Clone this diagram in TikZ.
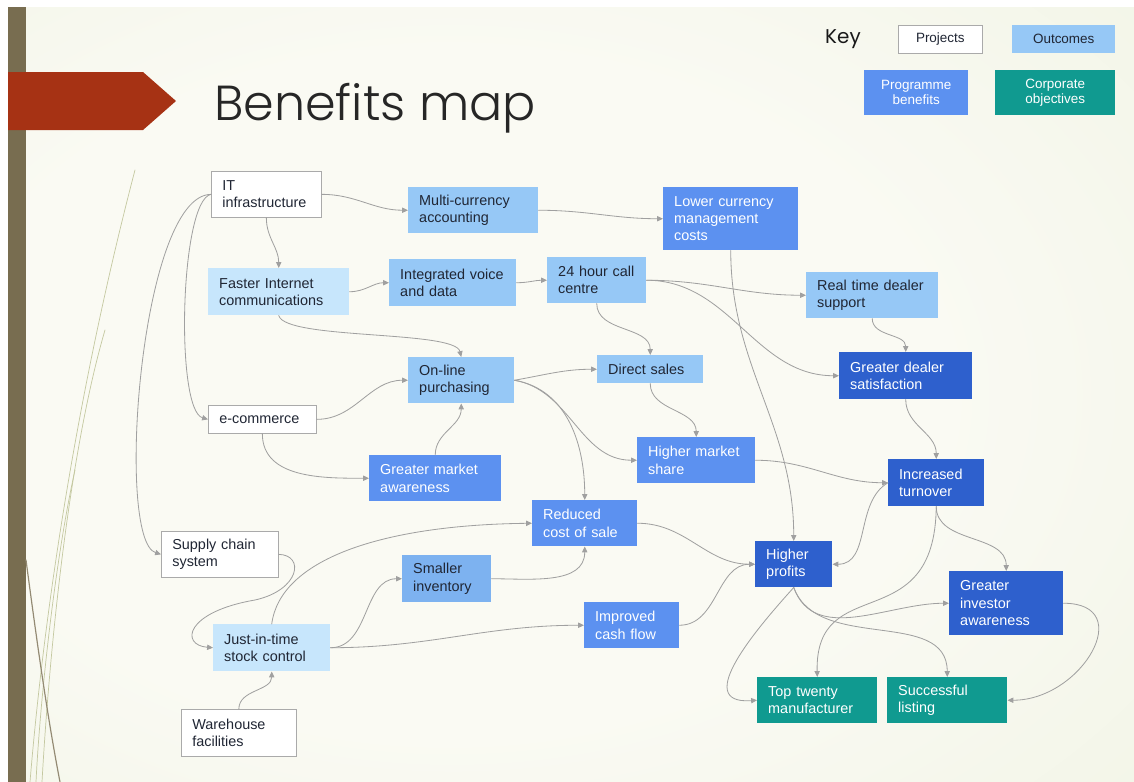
\documentclass[tikz,border=0pt]{standalone}
\usepackage{fontspec}
\setmainfont{Liberation Sans}
\newfontfamily\titlefont{Poppins Light}
\newfontfamily\keyfamily{Poppins}
\usepackage{tikz}
\usetikzlibrary{arrows.meta, calc}

\definecolor{BarOlive}{RGB}{120,109,80}
\definecolor{ArrowRed}{RGB}{166,50,20}
\definecolor{PaperWhite}{RGB}{250,250,243}
\definecolor{PaperMid}{RGB}{239,243,226}
\definecolor{PaperGreen}{RGB}{222,230,196}
\definecolor{WispGreen}{RGB}{196,200,160}
\definecolor{BoxGray}{RGB}{170,170,170}
\definecolor{LinkGray}{RGB}{160,160,160}
\definecolor{TextDark}{RGB}{32,38,52}
\definecolor{OutLight}{RGB}{199,230,252}
\definecolor{OutBlue}{RGB}{150,200,246}
\definecolor{InvBlue}{RGB}{125,178,240}
\definecolor{ProgBlue}{RGB}{92,145,240}
\definecolor{CorpBlue}{RGB}{46,96,205}
\definecolor{ObjTeal}{RGB}{16,154,144}

\pgfdeclareradialshading{paper}{\pgfpoint{-8bp}{0bp}}{color(0bp)=(PaperWhite); color(22bp)=(PaperWhite); color(48bp)=(PaperMid); color(70.7bp)=(PaperGreen)}

\newcommand{\boxfont}{\fontsize{12.3}{14.7}\selectfont}
\newcommand{\keyfont}{\fontsize{11.5}{13}\selectfont}

\newcommand{\MapBox}[7]{
	\pgfmathsetmacro{\bwidth}{#5*0.03}
	\pgfmathsetmacro{\bheight}{#6*0.03}
	\pgfmathsetmacro{\btext}{#5*0.03-0.66}
	\node[anchor=north west, inner xsep=0.33cm, inner ysep=0pt, minimum width=\bwidth cm, minimum height=\bheight cm, text width=\btext cm, align=left, #2] (#1) at (#3,-#4) {#7};
}

\begin{document}
\begin{tikzpicture}[x=0.03cm, y=0.03cm, line cap=round,
	project/.style={fill=white, draw=BoxGray, line width=0.6pt, text=TextDark, font=\boxfont},
	outlight/.style={fill=OutLight, text=TextDark, font=\boxfont},
	outcome/.style={fill=OutBlue, text=TextDark, font=\boxfont},
	inventory/.style={fill=InvBlue, text=TextDark, font=\boxfont},
	programme/.style={fill=ProgBlue, text=white, font=\boxfont},
	corporate/.style={fill=CorpBlue, text=white, font=\boxfont},
	objective/.style={fill=ObjTeal, text=white, font=\boxfont},
	keybox/.style={align=center, inner xsep=0.1cm, font=\keyfont},
	link/.style={draw=LinkGray, line width=0.7pt, -{Triangle[length=5pt, width=4.5pt]}},
	wisp/.style={draw=WispGreen, line width=0.6pt}
	]

	\useasboundingbox (0,0) rectangle (1134,-782);

	% slide background
	\fill[white] (0,0) rectangle (1134,-782);
	\shade[shading=paper] (8,-7) rectangle (1134,-782);
	\fill[BarOlive] (8,-7) rectangle (26,-782);
	\draw[wisp] (30,-782) .. controls (45,-600) and (80,-380) .. (135,-170);
	\draw[wisp] (42,-782) .. controls (50,-640) and (70,-450) .. (105,-330);
	\draw[wisp] (36,-782) .. controls (40,-700) and (55,-560) .. (75,-470);
	\draw[BarOlive!80, line width=1pt] (26,-560) .. controls (38,-650) and (48,-720) .. (60,-782);
	\fill[ArrowRed] (8,-72) -- (143,-72) -- (176,-101) -- (143,-130) -- (8,-130) -- cycle;

	\node[anchor=base west, inner sep=0, text=black!85, font=\titlefont\fontsize{42}{48}\selectfont] (title) at (214,-120) {Benefits map};

	% key
	\node[anchor=base west, inner sep=0, text=black!90, font=\keyfamily\fontsize{17}{20}\selectfont] (keylabel) at (825,-43) {Key};
	\MapBox{keyproj}{project, keybox}{898}{25}{84}{28}{Projects}
	\MapBox{keyout}{outcome, keybox}{1012}{25}{103}{28}{Outcomes}
	\MapBox{keyprog}{programme, keybox}{864}{70}{104}{45}{Programme\\benefits}
	\MapBox{keycorp}{objective, keybox}{995}{70}{120}{45}{Corporate\\objectives}

	% projects
	\MapBox{itinfra}{project}{211}{171}{110}{46}{IT\\infrastructure}
	\MapBox{ecomm}{project}{208}{405}{108}{28}{e-commerce}
	\MapBox{supply}{project}{161}{531}{117}{46}{Supply chain\\system}
	\MapBox{warehouse}{project}{181}{709}{115}{47}{Warehouse\\facilities}

	% outcomes
	\MapBox{multicur}{outcome}{408}{187}{130}{46}{Multi-currency\\accounting}
	\MapBox{faster}{outlight}{208}{268}{141}{47}{Faster Internet\\communications}
	\MapBox{voice}{outcome}{389}{259}{127}{47}{Integrated voice\\and data}
	\MapBox{callctr}{outcome}{547}{257}{99}{46}{24 hour call\\centre}
	\MapBox{dealersup}{outcome}{806}{272}{132}{46}{Real time dealer\\support}
	\MapBox{online}{outcome}{408}{357}{106}{46}{On-line\\purchasing}
	\MapBox{directs}{outcome}{597}{355}{106}{28}{Direct sales}
	\MapBox{inventory}{inventory}{402}{555}{89}{47}{Smaller\\inventory}
	\MapBox{jit}{outlight}{213}{624}{117}{47}{Just-in-time\\stock control}

	% programme benefits
	\MapBox{lowercur}{programme}{663}{187}{135}{63}{Lower currency\\management\\costs}
	\MapBox{mktaware}{programme}{369}{455}{132}{46}{Greater market\\awareness}
	\MapBox{mktshare}{programme}{637}{437}{118}{46}{Higher market\\share}
	\MapBox{costsale}{programme}{532}{500}{105}{46}{Reduced\\cost of sale}
	\MapBox{cashflow}{programme}{584}{602}{95}{46}{Improved\\cash flow}

	\MapBox{dealersat}{corporate}{839}{352}{133}{47}{Greater dealer\\satisfaction}
	\MapBox{turnover}{corporate}{888}{459}{96}{47}{Increased\\turnover}
	\MapBox{profits}{corporate}{755}{541}{77}{46}{Higher\\profits}
	\MapBox{investor}{corporate}{949}{571}{114}{64}{Greater\\investor\\awareness}

	% corporate objectives
	\MapBox{toptwenty}{objective}{757}{677}{120}{46}{Top twenty\\manufacturer}
	\MapBox{listing}{objective}{887}{677}{120}{46}{Successful\\listing}

	% links from projects
	\draw[link] (itinfra.east) to[out=0, in=180] (multicur.west);
	\draw[link] (itinfra.south) to[out=-90, in=90] (faster.north);
	\draw[link] (itinfra.west) .. controls (180,-200) and (175,-410) .. (ecomm.west);
	\draw[link] (itinfra.west) .. controls (140,-195) and (115,-540) .. (supply.west);
	\draw[link] (ecomm.east) to[out=0, in=180] (online.west);
	\draw[link] (ecomm.south) to[out=-90, in=180] (mktaware.west);
	\draw[link] (supply.east) .. controls (305,-555) and (300,-590) .. (255,-600) .. controls (185,-612) and (180,-645) .. (jit.west);
	\draw[link] (warehouse.north) to[out=90, in=-90] (jit.south);

	% links from outcomes
	\draw[link] (multicur.east) to[out=0, in=180] (lowercur.west);
	\draw[link] (faster.east) to[out=0, in=180] (voice.west);
	\draw[link] (faster.south) .. controls (285,-340) and (455,-330) .. (online.north);
	\draw[link] (voice.east) to[out=0, in=180] (callctr.west);
	\draw[link] (callctr.east) to[out=0, in=180] (dealersup.west);
	\draw[link] (callctr.east) to[out=0, in=180] (dealersat.west);
	\draw[link] (callctr.south) to[out=-90, in=90] (directs.north);
	\draw[link] (online.east) to[out=10, in=180] (directs.west);
	\draw[link] (online.east) to[out=-10, in=180] (mktshare.west);
	\draw[link] (online.east) to[out=-10, in=90] (costsale.north);
	\draw[link] (directs.south) to[out=-90, in=90] (mktshare.north);
	\draw[link] (dealersup.south) to[out=-90, in=90] (dealersat.north);
	\draw[link] (inventory.east) to[out=0, in=-90] (costsale.south);
	\draw[link] (jit.north) .. controls (280,-560) and (380,-525) .. (costsale.west);
	\draw[link] (jit.east) to[out=0, in=180] (inventory.west);
	\draw[link] (jit.east) to[out=0, in=180] (cashflow.west);

	% links from benefits
	\draw[link] (lowercur.south) to[out=-90, in=90] (profits.north);
	\draw[link] (mktaware.north) to[out=90, in=-90] (online.south);
	\draw[link] (mktshare.east) to[out=0, in=180] (turnover.west);
	\draw[link] (costsale.east) to[out=0, in=180] (profits.west);
	\draw[link] (cashflow.east) to[out=0, in=180] (profits.west);
	\draw[link] (dealersat.south) to[out=-90, in=90] (turnover.north);
	\draw[link] (turnover.west) to[out=210, in=0] (profits.east);
	\draw[link] (turnover.south) to[out=-90, in=90] (investor.north);
	\draw[link] (turnover.south) .. controls (935,-640) and (815,-570) .. (toptwenty.north);
	\draw[link] (profits.south) to[out=-70, in=180] (investor.west);
	\draw[link] (profits.south) .. controls (760,-625) and (690,-705) .. (toptwenty.west);
	\draw[link] (profits.south) to[out=-70, in=90] (listing.north);
	\draw[link] (investor.east) to[out=0, in=0, looseness=1.7] (listing.east);

\end{tikzpicture}
\end{document}
